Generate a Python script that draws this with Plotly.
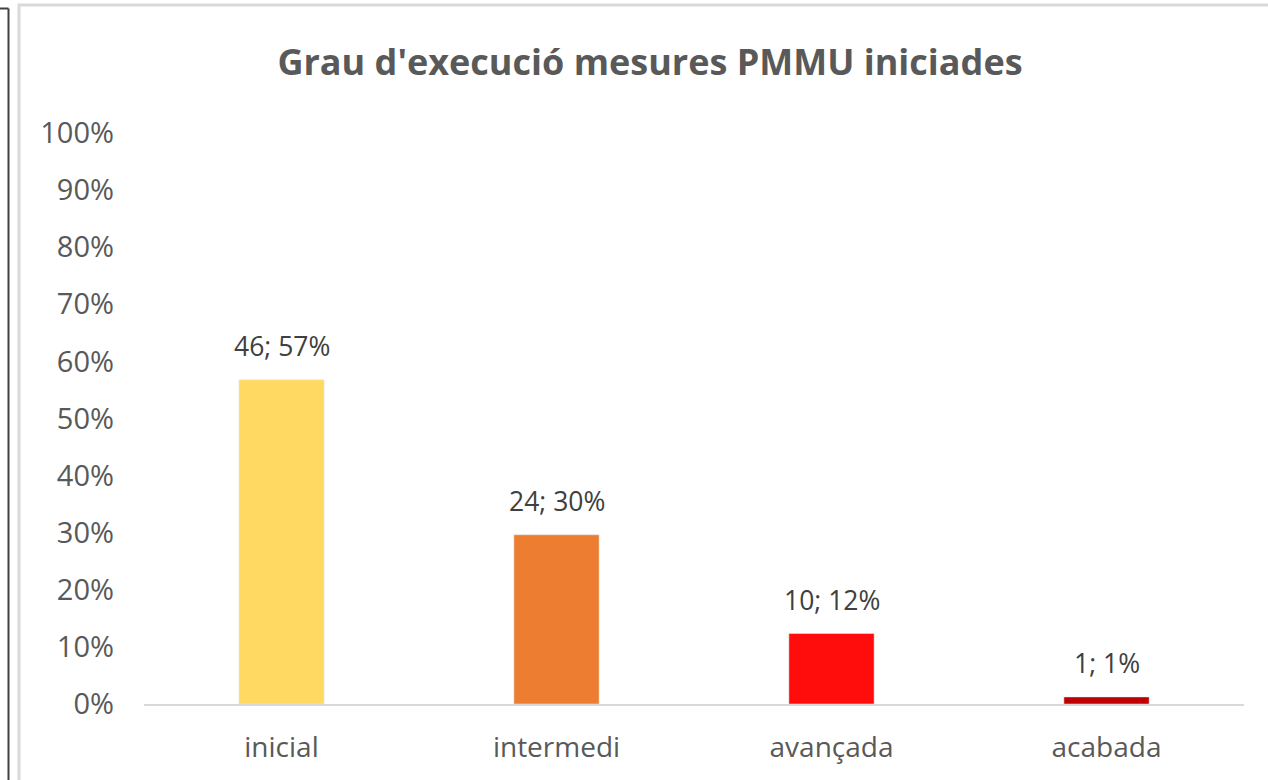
import plotly.graph_objects as go

categories = ["inicial", "intermedi", "avançada", "acabada"]
counts = [46, 24, 10, 1]
total = 81
percents = [c / total for c in counts]
labels = [f"{c}; {round(p*100)}%" for c, p in zip(counts, percents)]
colors = ["#FFD961", "#ED7D31", "#FF0D0D", "#C00000"]
ytick_vals = [i / 10 for i in range(11)]
ytick_text = [f"{i*10}%" for i in range(11)]

W, H = 1268, 780
L, R, T, B = 144, 24, 133, 76
pw, ph = W - L - R, H - T - B

def px_x(x):
    return (x - L) / pw

def px_y(y):
    return (H - B - y) / ph

fig = go.Figure()
fig.add_trace(go.Bar(
    x=categories, y=percents, marker_color=colors, width=0.31,
    hoverinfo="skip",
))

for cat, p, lab in zip(categories, percents, labels):
    fig.add_annotation(x=cat, y=p, text=lab, showarrow=False,
                       xanchor="center", yanchor="bottom", yshift=14,
                       font=dict(family="Open Sans", size=26.5, color="#404040"))

fig.update_layout(
    width=W, height=H,
    margin=dict(l=L, r=R, t=T, b=B),
    paper_bgcolor="white", plot_bgcolor="white",
    showlegend=False,
    title=dict(text="<b>Grau d'execució mesures PMMU iniciades</b>",
               x=650 / W, xref="container", xanchor="center",
               y=1 - 62 / H, yref="container", yanchor="middle",
               font=dict(family="Open Sans", size=36, color="#595959")),
    xaxis=dict(showgrid=False, showline=True, linecolor="#D9D9D9", linewidth=2,
               ticks="", ticklabelstandoff=17,
               tickfont=dict(family="Open Sans", size=28, color="#595959")),
    yaxis=dict(range=[0, 1], tickvals=ytick_vals, ticktext=ytick_text,
               showgrid=False, showline=False, zeroline=False, ticks="",
               ticklabelstandoff=29,
               tickfont=dict(family="Open Sans", size=29, color="#595959")),
    shapes=[
        dict(type="rect", xref="paper", yref="paper",
             x0=px_x(19), x1=px_x(1300), y0=px_y(820), y1=px_y(5),
             line=dict(color="#D9D9D9", width=3), fillcolor="rgba(0,0,0,0)", layer="below"),
        dict(type="line", xref="paper", yref="paper",
             x0=px_x(8.5), x1=px_x(8.5), y0=px_y(8.5), y1=px_y(800),
             line=dict(color="#404040", width=2)),
        dict(type="line", xref="paper", yref="paper",
             x0=px_x(-5), x1=px_x(8.5), y0=px_y(8.5), y1=px_y(8.5),
             line=dict(color="#404040", width=2)),
    ],
)

fig.write_html("out.html",
               config={"displayModeBar": False},
               post_script="document.body.style.margin='0';document.body.style.overflow='hidden';")
